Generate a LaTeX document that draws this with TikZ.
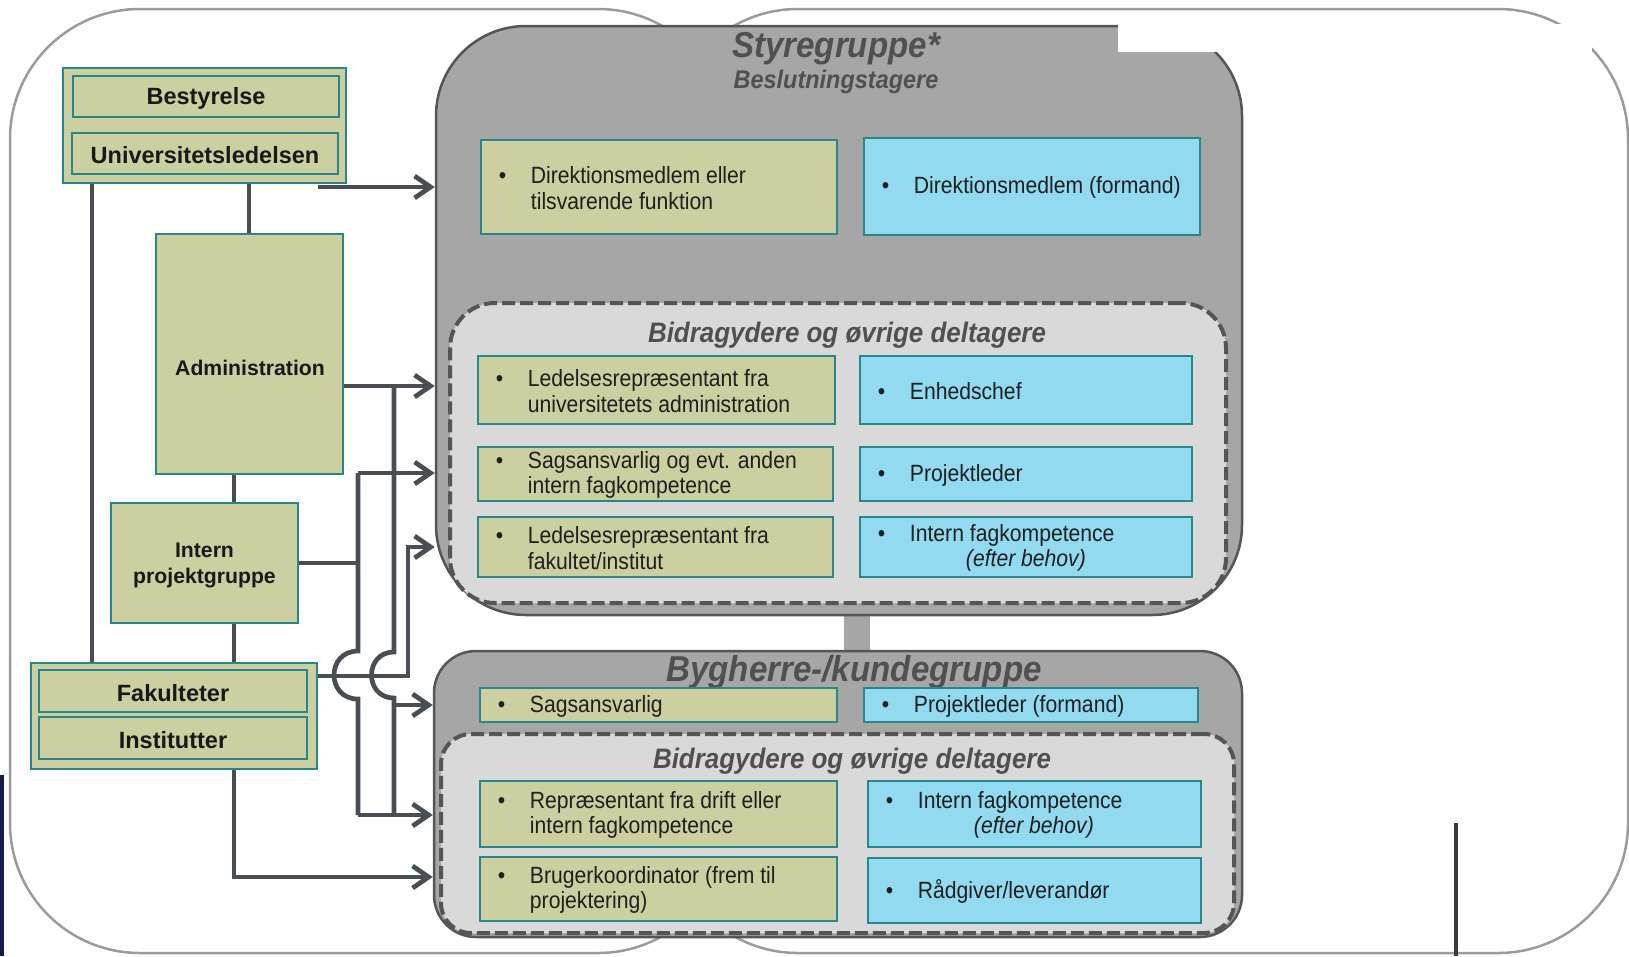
\documentclass[tikz,border=0pt]{standalone}
\usepackage{fontspec}
\setmainfont{Liberation Sans}
\newfontfamily\narrowf{Liberation Sans}[FakeStretch=0.9]
\newfontfamily\titlef{Liberation Sans}[FakeStretch=0.92]
\usetikzlibrary{arrows.meta,fit}
\definecolor{khaki}{RGB}{204,207,160}
\definecolor{skyb}{RGB}{146,218,240}
\definecolor{tealb}{RGB}{40,135,140}
\definecolor{grpgray}{RGB}{166,166,166}
\definecolor{grpedge}{RGB}{85,85,85}
\definecolor{inngray}{RGB}{217,217,217}
\definecolor{wire}{RGB}{72,78,84}
\definecolor{outlinegray}{RGB}{155,155,155}
\definecolor{ttl}{RGB}{80,80,80}
\definecolor{navyb}{RGB}{20,28,75}
\newcommand\bodyfnt{\narrowf\fontsize{23.5}{25.5}\selectfont}
\newcommand\lblfnt{\bfseries\fontsize{23.5}{27}\selectfont}
\newcommand\lblsfnt{\bfseries\fontsize{21.2}{26}\selectfont}
\newcommand\bigttl{\titlef\bfseries\itshape\fontsize{36}{40}\selectfont}
\newcommand\subttl{\titlef\bfseries\itshape\fontsize{25.5}{30}\selectfont}
\newcommand\midttl{\titlef\bfseries\itshape\fontsize{28.2}{32}\selectfont}
\newcommand\bul{\makebox[32pt][l]{•}}
\newcommand\bulind{\hspace*{32pt}}
\newcommand\mkentry[7]{%
  \node[#2, fit={(#3,#4) (#5,#6)}] (#1) {};
  \node[bodytxt, anchor=west] (#1t) at ([xshift=19pt,yshift=-1pt]#1.west) {#7};}
\newcommand\mklabel[8]{%
  \node[#2, fit={(#3,#4) (#5,#6)}] (#1) {};
  \node[lbltxt, font=#7] (#1t) at ([yshift=-2pt]#1.center) {#8};}
\tikzset{
  kbox/.style={draw=tealb, fill=khaki, line width=2.5pt, inner sep=0pt, rectangle},
  bbox/.style={draw=tealb, fill=skyb, line width=2.5pt, inner sep=0pt, rectangle},
  bodytxt/.style={font=\bodyfnt, align=left, inner sep=0pt, text=black!88},
  lbltxt/.style={inner sep=0pt, align=center, text=black!90},
  grp/.style={draw=grpedge, fill=grpgray, line width=2.5pt, rounded corners=#1, inner sep=0pt},
  dgrp/.style={draw=grpedge, fill=inngray, line width=4pt, dash pattern=on 13pt off 5pt, rounded corners=#1, inner sep=0pt},
  conn/.style={draw=wire, line width=4.7pt},
  arr/.style={conn, -{Straight Barb[length=16pt,width=22pt]}},
  outerline/.style={draw=outlinegray, line width=2.5pt, rounded corners=130pt},
}
\begin{document}
\begin{tikzpicture}[x=1pt, y=-1pt]
\useasboundingbox (0,0) rectangle (1629,956);
% background outlines
\draw[outerline] (728,200) -- (728,9) -- (10,9) -- (10,953) -- (728,953) -- (728,800);
\draw[outerline] (668,200) -- (668,9) -- (1628,9) -- (1628,953) -- (668,953) -- (668,800);
\fill[navyb] (0,775) rectangle (4,956);
\draw[draw={rgb,255:red,55;green,60;blue,66}, line width=4.5pt] (1456,823) -- (1456,956);
% link bar between groups
\node[fill=grpgray, inner sep=0pt, fit={(844,610) (870,656)}] (bar) {};
% Styregruppe
\node[grp=90pt, fit={(436,26) (1242,615)}] (sty) {};
\fill[white] (1118,24) rectangle (1592,52);
\node[font=\bigttl, text=ttl] (styt) at (836,49) {Styregruppe*};
\node[font=\subttl, text=ttl] (styst) at (836,82) {Beslutningstagere};
\mkentry{s1}{kbox}{481}{140}{837}{234}{\bul Direktionsmedlem eller\\\bulind tilsvarende funktion}
\mkentry{s2}{bbox}{864}{138}{1200}{235}{\bul Direktionsmedlem (formand)}
\node[dgrp=45pt, fit={(450,303) (1226,603)}] (sin) {};
\node[font=\midttl, text=ttl] (sint) at (847,335) {Bidragydere og øvrige deltagere};
\mkentry{s3}{kbox}{478}{356}{835}{424}{\bul Ledelsesrepræsentant fra\\\bulind universitetets administration}
\mkentry{s4}{bbox}{860}{356}{1192}{424}{\bul Enhedschef}
\mkentry{s5}{kbox}{478}{447}{833}{501}{\bul Sagsansvarlig og evt. anden\\\bulind intern fagkompetence}
\mkentry{s6}{bbox}{860}{447}{1192}{501}{\bul Projektleder}
\mkentry{s7}{kbox}{478}{517}{833}{577}{\bul Ledelsesrepræsentant fra\\\bulind fakultet/institut}
\mkentry{s8}{bbox}{860}{517}{1192}{577}{\bul Intern fagkompetence\\\bulind\hspace*{56pt}{\itshape(efter behov)}}
% Bygherre
\node[grp=42pt, fit={(434,651) (1242,937)}] (byg) {};
\node[font=\bigttl, text=ttl] (bygt) at (854,672) {Bygherre-/kundegruppe};
\mkentry{k1}{kbox}{480}{688}{837}{722}{\bul Sagsansvarlig}
\mkentry{k2}{bbox}{864}{688}{1198}{722}{\bul Projektleder (formand)}
\node[dgrp=30pt, fit={(441,734) (1234,933)}] (bin) {};
\node[font=\midttl, text=ttl] (bint) at (852,761) {Bidragydere og øvrige deltagere};
\mkentry{k3}{kbox}{480}{781}{837}{847}{\bul Repræsentant fra drift eller\\\bulind intern fagkompetence}
\mkentry{k4}{bbox}{868}{781}{1201}{847}{\bul Intern fagkompetence\\\bulind\hspace*{56pt}{\itshape(efter behov)}}
\mkentry{k5}{kbox}{480}{857}{837}{921}{\bul Brugerkoordinator (frem til\\\bulind projektering)}
\mkentry{k6}{bbox}{868}{858}{1201}{923}{\bul Rådgiver/leverandør}
% left side organisation
\node[kbox, fit={(63,68) (346,183)}] (univgrp) {};
\mklabel{best}{kbox}{73}{76}{339}{117}{\lblfnt}{Bestyrelse}
\mklabel{univ}{kbox}{72}{133}{338}{174}{\lblfnt}{Universitetsledelsen}
\node[kbox, fit={(156,234) (343,474)}] (adm) {};
\node[lbltxt, font=\lblsfnt] (admt) at (250,368) {Administration};
\mklabel{intp}{kbox}{111}{503}{298}{623}{\lblsfnt}{Intern\\projektgruppe}
\node[kbox, fit={(31,663) (317,769)}] (fakgrp) {};
\mklabel{fak}{kbox}{39}{670}{307}{712}{\lblfnt}{Fakulteter}
\mklabel{inst}{kbox}{39}{717}{307}{759}{\lblfnt}{Institutter}
% connectors
\coordinate (xL) at (92,0);
\coordinate (xU) at (249,0);
\coordinate (xM) at (234,0);
\draw[conn] (univgrp.south -| xL) -- (fakgrp.north -| xL);
\draw[conn] (univgrp.south -| xU) -- (adm.north -| xU);
\draw[conn] (adm.south -| xM) -- (intp.north -| xM);
\draw[conn] (intp.south -| xM) -- (fakgrp.north -| xM);
\coordinate (ua) at (318,187);
\draw[arr] (ua) -- (ua -| sty.west);
% administration branch
\coordinate (a1) at (394,386);
\coordinate (h2a) at (394,652);
\coordinate (h2b) at (394,698);
\coordinate (b1) at (394,705);
\coordinate (b2) at (394,815);
\draw[arr] (adm.east |- a1) -- (a1 -| sty.west);
\draw[conn] (a1) -- (h2a) .. controls +(-30,0) and +(-30,0) .. (h2b) -- (b2);
\draw[arr] (b1) -- (b1 -| byg.west);
% intern projektgruppe branch
\coordinate (a2) at (358,473);
\coordinate (i1) at (358,563);
\coordinate (h1a) at (358,651);
\coordinate (h1b) at (358,699);
\coordinate (c1) at (358,815);
\draw[arr] (a2) -- (a2 -| sty.west);
\draw[conn] (intp.east |- i1) -- (i1);
\draw[conn] (a2) -- (h1a) .. controls +(-32,0) and +(-32,0) .. (h1b) -- (c1);
\draw[arr] (c1) -- (c1 -| byg.west);
% fakulteter branch
\coordinate (f1) at (408,676);
\coordinate (f2) at (408,547);
\draw[arr] (fakgrp.east |- f1) -- (f1) -- (f2) -- (f2 -| sty.west);
\coordinate (g1) at (234,877);
\draw[arr] (fakgrp.south -| g1) -- (g1) -- (g1 -| byg.west);
\end{tikzpicture}
\end{document}
